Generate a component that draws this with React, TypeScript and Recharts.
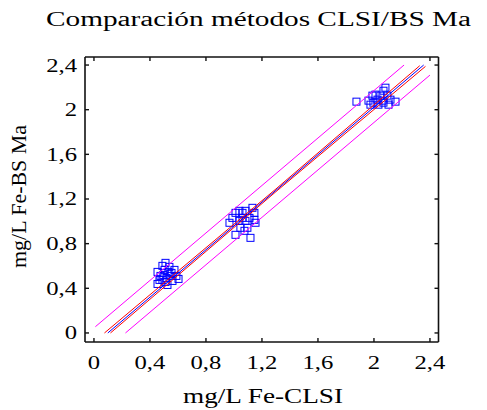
import React from "react";
import { ScatterChart, Scatter, XAxis, YAxis } from "recharts";

// Reference method (CLSI) vs BS Ma — measured pairs, mg/L Fe
const clsiValues = [
  0.454, 0.454, 0.489, 0.511, 0.504, 0.532, 0.546, 0.518, 0.489, 0.561, 0.589, 0.475, 0.525, 0.575, 0.539, 0.496, 0.554, 0.604, 0.511, 0.468,
  0.968, 0.989, 1.011, 1.039, 1.061, 1.082, 1.132, 1.146, 1.154, 1.096, 1.046, 1.011, 1.118, 1.075, 1.082, 1.039, 1.061, 1.111, 1.146,
  1.875, 1.961, 1.989, 2.011, 1.996, 2.032, 2.061, 2.068, 2.082, 2.096, 2.118, 2.154, 2.104, 2.025, 1.975, 2.046, 2.068,
];
const bsValues = [
  0.547, 0.439, 0.601, 0.628, 0.565, 0.547, 0.511, 0.493, 0.475, 0.466, 0.511, 0.511, 0.43, 0.565, 0.592, 0.52, 0.538, 0.484, 0.457, 0.475,
  0.987, 1.031, 1.076, 1.094, 1.076, 1.094, 1.121, 1.076, 0.987, 0.942, 0.942, 0.879, 0.852, 0.915, 1.004, 1.004, 1.031, 1.031, 1.013,
  2.072, 2.081, 2.126, 2.135, 2.063, 2.045, 2.081, 2.17, 2.197, 2.126, 2.09, 2.072, 2.045, 2.09, 2.045, 2.126, 2.063,
];

// Fitted line and bands (end / middle points)
const fitLine = [
  { x: 0.099, y: 0 },
  { x: 2.355, y: 2.4 },
];
const confUpper = [
  { x: 0.075, y: 0 },
  { x: 1.3, y: 1.29 },
  { x: 2.327, y: 2.394 },
];
const confLower = [
  { x: 0.118, y: 0 },
  { x: 1.3, y: 1.266 },
  { x: 2.368, y: 2.388 },
];
const predUpper = [
  { x: 0.01, y: 0.056 },
  { x: 2.215, y: 2.4 },
];
const predLower = [
  { x: 0.225, y: 0 },
  { x: 2.4, y: 2.31 },
];

const xTicks = [0, 0.4, 0.8, 1.2, 1.6, 2, 2.4];
const yTicks = [0, 0.4, 0.8, 1.2, 1.6, 2, 2.4];

const title = "Comparación métodos CLSI/BS Ma";
const xLabel = "mg/L Fe-CLSI";
const yLabel = "mg/L Fe-BS Ma";

const points = clsiValues.map((x, i) => ({ x, y: bsValues[i] }));

const FONT = "'Liberation Serif', 'Times New Roman', Times, serif";
const textStyle = { fontFamily: FONT, fill: "#000" };
const fmt = (v: number) => String(v).replace(".", ",");
const TICK_LEN = 4;
const TICK_COLOR = "#111";
const TICK_W = 1.4;
const X_MARGIN = 27;
const Y_MARGIN = 8;

// bottom axis: inward tick + label
const XTick = (props: any) => {
  const { x, y, payload } = props;
  return (
    <g transform={`translate(${x},${y})`}>
      <line x1={0} y1={-X_MARGIN} x2={0} y2={-X_MARGIN - TICK_LEN} stroke={TICK_COLOR} strokeWidth={TICK_W} />
      <text transform="scale(1.3,1)" textAnchor="middle" fontSize={19} style={textStyle}>
        {fmt(payload.value)}
      </text>
    </g>
  );
};

// left axis: inward tick + label
const YTick = (props: any) => {
  const { x, y, payload } = props;
  return (
    <g transform={`translate(${x},${y})`}>
      <line x1={Y_MARGIN} y1={0} x2={Y_MARGIN + TICK_LEN} y2={0} stroke={TICK_COLOR} strokeWidth={TICK_W} />
      <text transform="scale(1.3,1)" textAnchor="end" dy="0.34em" fontSize={19} style={textStyle}>
        {fmt(payload.value)}
      </text>
    </g>
  );
};

// top axis: inward tick only
const TopTick = (props: any) => {
  const { x, y } = props;
  return <line x1={x} y1={y} x2={x} y2={y + TICK_LEN} stroke={TICK_COLOR} strokeWidth={TICK_W} />;
};

// right axis: inward tick only
const RightTick = (props: any) => {
  const { x, y } = props;
  return <line x1={x} y1={y} x2={x - TICK_LEN} y2={y} stroke={TICK_COLOR} strokeWidth={TICK_W} />;
};

const Square = (props: any) => {
  const { cx, cy } = props;
  if (cx == null || cy == null) return <g />;
  return (
    <rect x={cx - 3.5} y={cy - 3.5} width={7} height={7} fill="none" stroke="#0000ff" strokeWidth={1} />
  );
};

const NoShape = () => <g />;

const axisLine = { stroke: "#111", strokeWidth: 1.6 };
const xDomain: [number, number] = [-0.064, 2.461];
const yDomain: [number, number] = [-0.081, 2.472];

export default function App() {
  return (
    <div style={{ position: "absolute", left: 0, top: 0, width: 487, height: 410, background: "#fff" }}>
      <ScatterChart width={487} height={410} margin={{ top: 56, right: 47.5, bottom: 38, left: 25 }}>
        <XAxis type="number" dataKey="x" domain={xDomain} ticks={xTicks} allowDataOverflow height={30}
          axisLine={axisLine} tickLine={false} tickSize={0} tickMargin={X_MARGIN} tick={<XTick />} interval={0} />
        <XAxis xAxisId="top" orientation="top" type="number" dataKey="x" domain={xDomain} ticks={xTicks} allowDataOverflow height={1}
          axisLine={axisLine} tickLine={false} tickSize={0} tickMargin={0} tick={<TopTick />} interval={0} />
        <YAxis type="number" dataKey="y" domain={yDomain} ticks={yTicks} allowDataOverflow width={60}
          axisLine={axisLine} tickLine={false} tickSize={0} tickMargin={Y_MARGIN} tick={<YTick />} interval={0} />
        <YAxis yAxisId="right" orientation="right" type="number" dataKey="y" domain={yDomain} ticks={yTicks} allowDataOverflow width={1}
          axisLine={axisLine} tickLine={false} tickSize={0} tickMargin={0} tick={<RightTick />} interval={0} />
        <Scatter data={points} shape={<Square />} isAnimationActive={false} />
        <Scatter data={predUpper} line={{ stroke: "#ff00ff", strokeWidth: 1 }} lineType="joint" shape={<NoShape />} isAnimationActive={false} />
        <Scatter data={predLower} line={{ stroke: "#ff00ff", strokeWidth: 1 }} lineType="joint" shape={<NoShape />} isAnimationActive={false} />
        <Scatter data={confUpper} line={{ stroke: "#ff0000", strokeWidth: 1 }} lineType="joint" shape={<NoShape />} isAnimationActive={false} />
        <Scatter data={confLower} line={{ stroke: "#ff0000", strokeWidth: 1 }} lineType="joint" shape={<NoShape />} isAnimationActive={false} />
        <Scatter data={fitLine} line={{ stroke: "#0000ff", strokeWidth: 1 }} lineType="joint" shape={<NoShape />} isAnimationActive={false} />
      </ScatterChart>
      <svg width={487} height={410} style={{ position: "absolute", left: 0, top: 0, pointerEvents: "none" }}>
        <text x={46} y={26} fontSize={20} style={textStyle} textLength={425} lengthAdjust="spacingAndGlyphs">{title}</text>
        <text x={183} y={403} fontSize={20} style={textStyle} textLength={160} lengthAdjust="spacingAndGlyphs">{xLabel}</text>
        <text transform="translate(26,268) rotate(-90)" fontSize={20} style={textStyle} textLength={143} lengthAdjust="spacingAndGlyphs">{yLabel}</text>
      </svg>
    </div>
  );
}
